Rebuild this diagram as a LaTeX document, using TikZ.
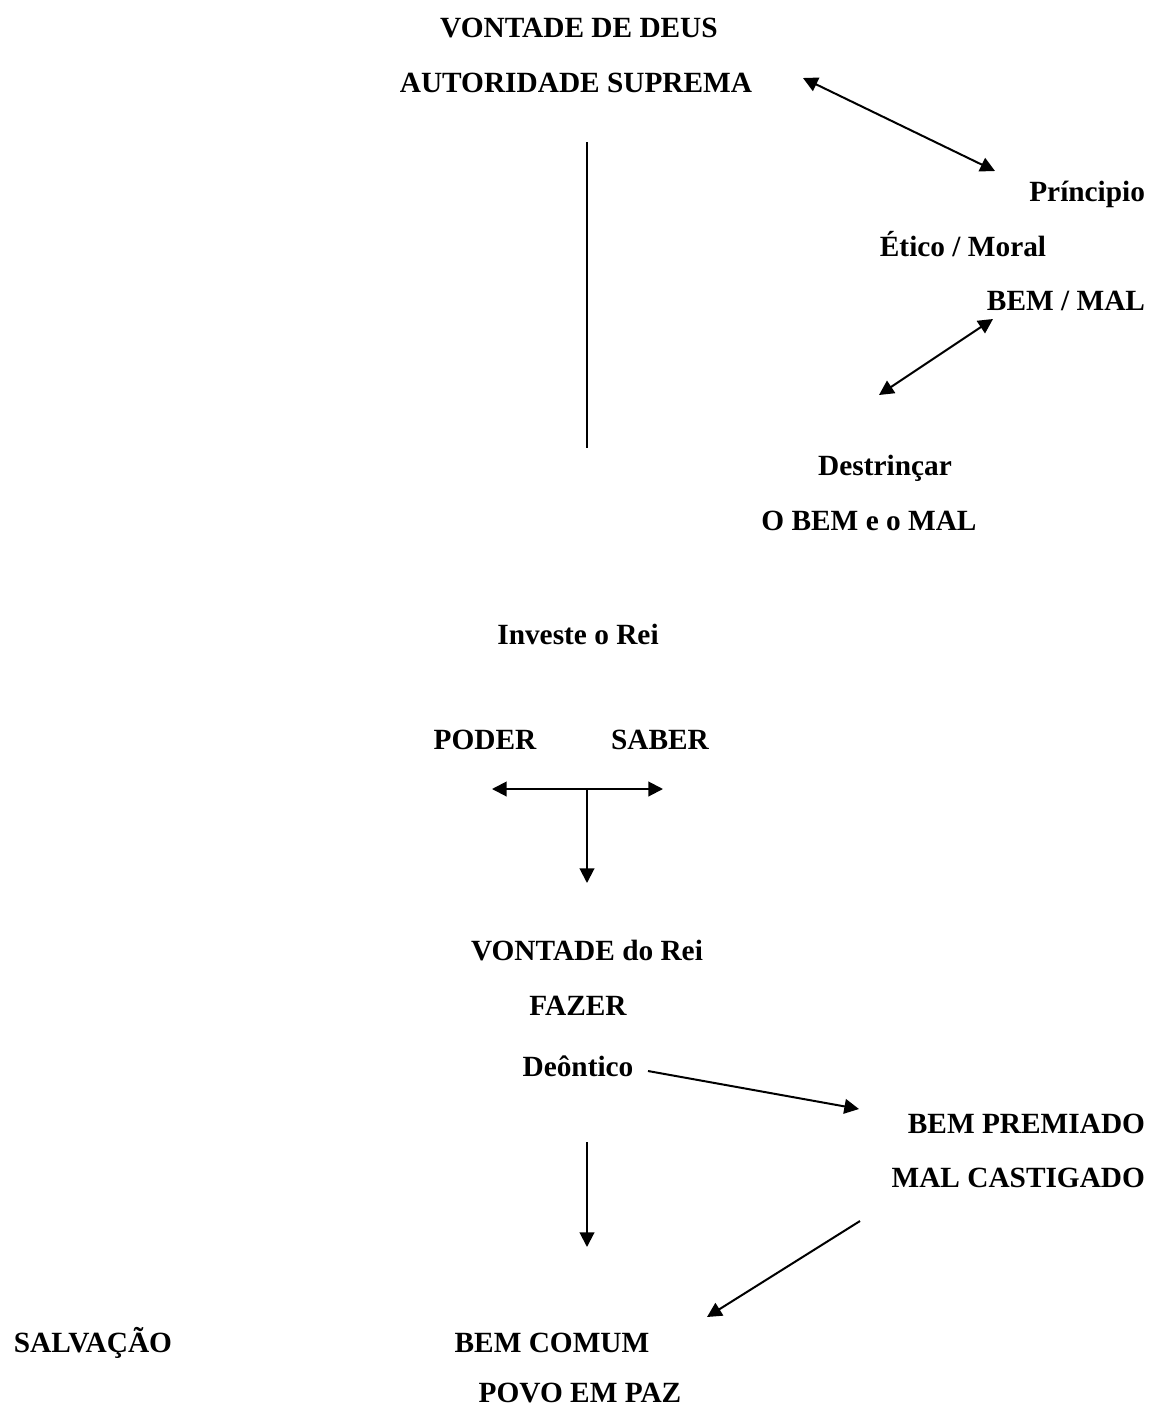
\documentclass[tikz,border=0pt]{standalone}
\usepackage{fontspec}
\setmainfont{Liberation Serif}
\usetikzlibrary{arrows.meta}

\begin{document}
\begin{tikzpicture}[x=0.75pt, y=-0.75pt,
  lbl/.style={font=\bfseries\fontsize{22}{26}\selectfont, inner sep=0pt, anchor=base},
  lblr/.style={lbl, anchor=base east},
  line/.style={line width=1.5pt},
  arr/.style={line, -{Triangle[length=11pt, width=11pt]}},
  darr/.style={line, {Triangle[length=11pt, width=11pt]}-{Triangle[length=11pt, width=11pt]}},
  every node/.style={outer sep=0pt}
]
  \useasboundingbox (0,0) rectangle (1153,1407);

  % Top block (God)
  \node[lbl] (deus) at (579,37) {VONTADE DE DEUS};
  \node[lbl] (autor) at (576,92) {AUTORIDADE SUPREMA};

  % Right column (principle)
  \node[lblr] (princ) at (1145,201) {Príncipio};
  \node[lbl] (etico) at (963,256) {Ético / Moral};
  \node[lblr] (bemmal) at (1145,310) {BEM / MAL};
  \node[lbl] (destr) at (885,475) {Destrinçar};
  \node[lbl] (obem) at (869,530) {O BEM e o MAL};

  % Middle column (king)
  \node[lbl] (invest) at (578,644) {Investe o Rei};
  \node[lbl] (poder) at (485,749) {PODER};
  \node[lbl] (saber) at (660,749) {SABER};
  \node[lbl] (vrei) at (587,960) {VONTADE do Rei};
  \node[lbl] (fazer) at (578,1015) {FAZER};
  \node[lbl] (deont) at (578,1076) {Deôntico};

  % Right column (reward / punishment)
  \node[lblr] (premio) at (1145,1133) {BEM PREMIADO};
  \node[lblr] (castigo) at (1145,1187) {MAL CASTIGADO};

  % Bottom row
  \node[lbl] (salv) at (93,1352) {SALVAÇÃO};
  \node[lbl] (comum) at (552,1352) {BEM COMUM};
  \node[lbl] (paz) at (580,1402) {POVO EM PAZ};

  % Connector end points
  \coordinate (a1) at (803,78);
  \coordinate (a2) at (995,171);
  \coordinate (v1) at (587,142);
  \coordinate (v2) at (587,448);
  \coordinate (b1) at (993,319);
  \coordinate (b2) at (879,395);
  \coordinate (tl) at (492,789);
  \coordinate (tr) at (663,789);
  \coordinate (tm) at (587,789);
  \coordinate (td) at (587,883);
  \coordinate (d1) at (648,1071);
  \coordinate (d2) at (859,1109);
  \coordinate (c1) at (587,1142);
  \coordinate (c2) at (587,1247);
  \coordinate (m1) at (860,1221);
  \coordinate (m2) at (707,1317);

  % Connectors
  \draw[darr] (a1) -- (a2);
  \draw[line] (v1) -- (v2);
  \draw[darr] (b1) -- (b2);
  \draw[darr] (tl) -- (tr);
  \draw[arr] (tm) -- (td);
  \draw[arr] (d1) -- (d2);
  \draw[arr] (c1) -- (c2);
  \draw[arr] (m1) -- (m2);
\end{tikzpicture}
\end{document}
